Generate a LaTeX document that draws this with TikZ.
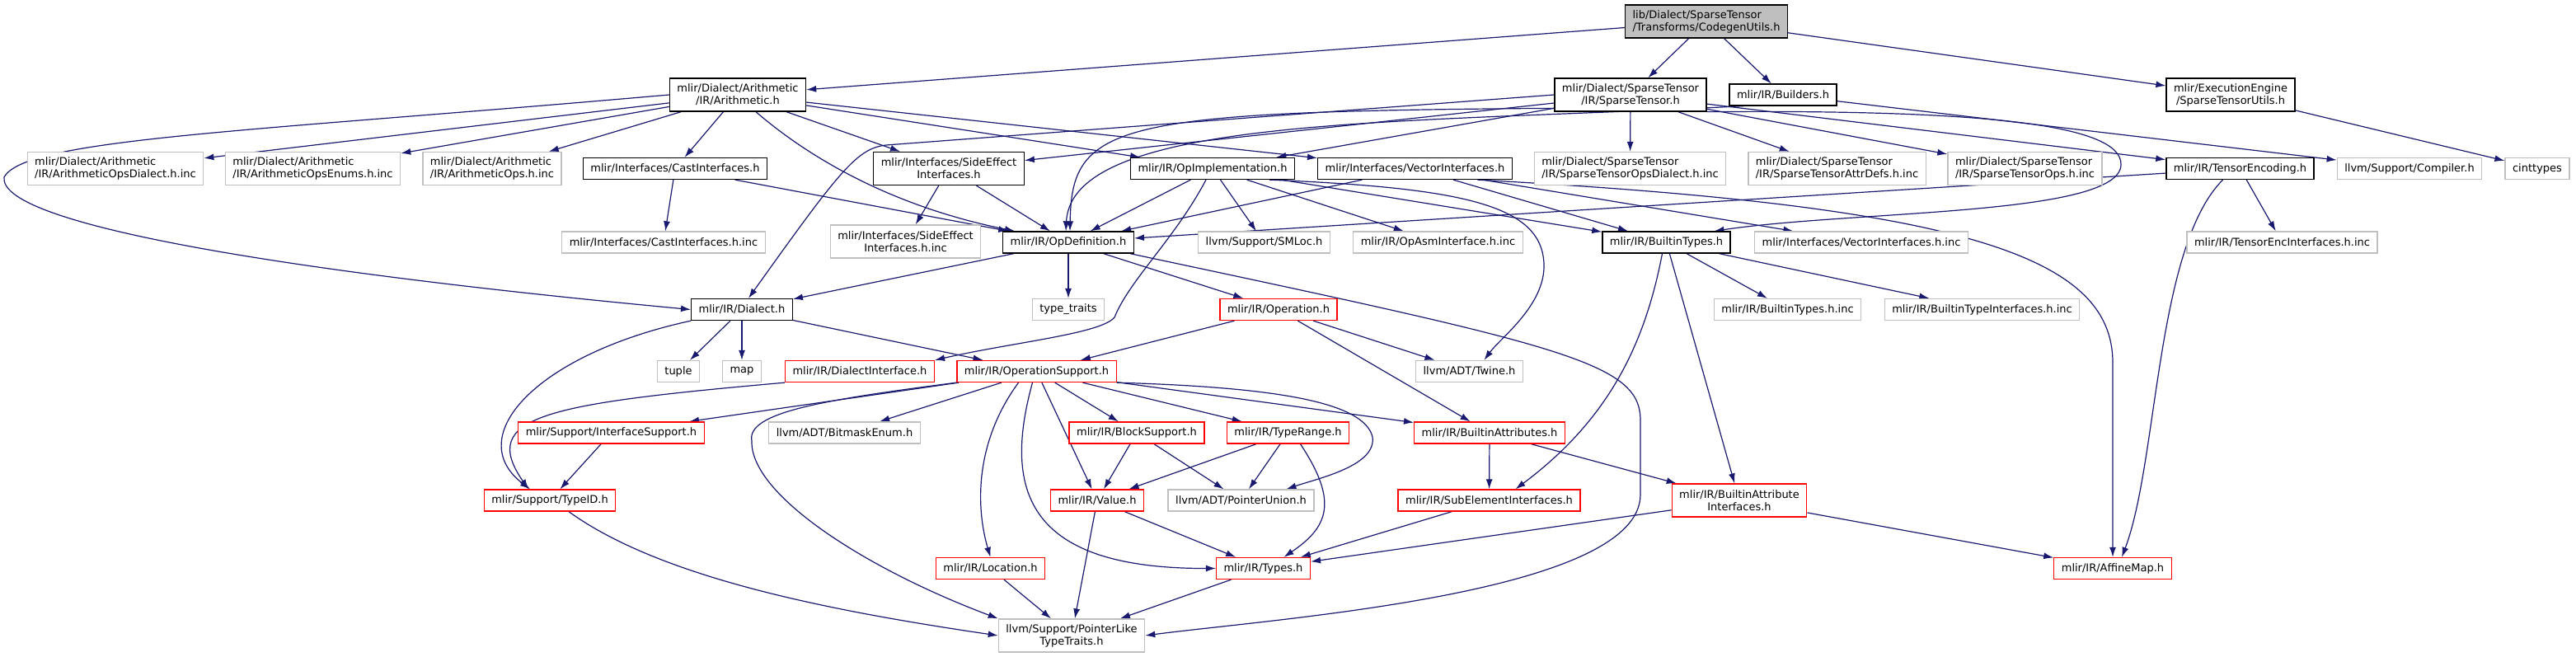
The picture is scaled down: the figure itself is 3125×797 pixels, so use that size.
\documentclass[tikz,border=0pt]{standalone}
\usepackage{fontspec}
\setmainfont{DejaVu Sans}
\usepackage{xcolor}
\usetikzlibrary{arrows.meta,backgrounds}

\definecolor{edgeblue}{RGB}{25,25,112}
\definecolor{boxgray}{RGB}{191,191,191}

\begin{document}
\begin{tikzpicture}[x=1pt, y=-1pt,
    every node/.style={font=\fontsize{13}{15}\selectfont, inner xsep=9pt, inner ysep=3pt, fill=white, line width=1.3pt, minimum height=26pt},
    file/.style={draw=black},
    sysfile/.style={draw=boxgray},
    cutfile/.style={draw=red},
    twoline/.style={minimum height=40pt},
    root/.style={file, twoline, fill=boxgray},
    dep/.style={-{Latex[length=12pt,width=8pt]}, draw=edgeblue, line width=1.2pt}]
  \useasboundingbox (0,0) rectangle (3125,797);

  % Source file
  \node[root, align=left] (codegen) at (2070,26) {lib/Dialect/SparseTensor\\/Transforms/CodegenUtils.h};

  % Direct includes
  \node[file, twoline, align=center] (arith) at (895,115) {mlir/Dialect/Arithmetic\\/IR/Arithmetic.h};
  \node[file, twoline, align=center] (sparse) at (1978,115) {mlir/Dialect/SparseTensor\\/IR/SparseTensor.h};
  \node[file] (builders) at (2163,115) {mlir/IR/Builders.h};
  \node[file, twoline, align=center] (execeng) at (2706,115) {mlir/ExecutionEngine\\/SparseTensorUtils.h};

  % Second row
  \node[sysfile, twoline, align=left] (opsdialect) at (140,204.5) {mlir/Dialect/Arithmetic\\/IR/ArithmeticOpsDialect.h.inc};
  \node[sysfile, twoline, align=left] (opsenums) at (379.5,204.5) {mlir/Dialect/Arithmetic\\/IR/ArithmeticOpsEnums.h.inc};
  \node[sysfile, twoline, align=left] (opsinc) at (597,204.5) {mlir/Dialect/Arithmetic\\/IR/ArithmeticOps.h.inc};
  \node[file] (castif) at (819,204.5) {mlir/Interfaces/CastInterfaces.h};
  \node[file, twoline, align=center] (sideeff) at (1151,204.5) {mlir/Interfaces/SideEffect\\Interfaces.h};
  \node[file] (opimpl) at (1471,204.5) {mlir/IR/OpImplementation.h};
  \node[file] (vecif) at (1716.5,204.5) {mlir/Interfaces/VectorInterfaces.h};
  \node[sysfile, twoline, align=left] (stdialect) at (1977.5,204.5) {mlir/Dialect/SparseTensor\\/IR/SparseTensorOpsDialect.h.inc};
  \node[sysfile, twoline, align=left] (stattr) at (2228.5,204.5) {mlir/Dialect/SparseTensor\\/IR/SparseTensorAttrDefs.h.inc};
  \node[sysfile, twoline, align=left] (stops) at (2456.5,204.5) {mlir/Dialect/SparseTensor\\/IR/SparseTensorOps.h.inc};
  \node[file] (tenc) at (2717.5,204.5) {mlir/IR/TensorEncoding.h};
  \node[sysfile] (compiler) at (2923,204.5) {llvm/Support/Compiler.h};
  \node[sysfile] (cinttypes) at (3078,204.5) {cinttypes};

  % Third row
  \node[sysfile] (castinc) at (805,294) {mlir/Interfaces/CastInterfaces.h.inc};
  \node[sysfile, twoline, align=center] (sideinc) at (1098.5,293) {mlir/Interfaces/SideEffect\\Interfaces.h.inc};
  \node[file] (opdef) at (1296,294) {mlir/IR/OpDefinition.h};
  \node[sysfile] (smloc) at (1533.5,294) {llvm/Support/SMLoc.h};
  \node[sysfile] (opasm) at (1744.5,294) {mlir/IR/OpAsmInterface.h.inc};
  \node[file] (btypes) at (2021.5,294) {mlir/IR/BuiltinTypes.h};
  \node[sysfile] (vecinc) at (2258,294) {mlir/Interfaces/VectorInterfaces.h.inc};
  \node[sysfile] (tencinc) at (2768.5,294) {mlir/IR/TensorEncInterfaces.h.inc};

  % Fourth row
  \node[file] (dialect) at (900,375.5) {mlir/IR/Dialect.h};
  \node[sysfile] (typetraits) at (1296,375.5) {type\_traits};
  \node[cutfile] (operation) at (1551,375.5) {mlir/IR/Operation.h};
  \node[sysfile] (btypesinc) at (2168.5,375.5) {mlir/IR/BuiltinTypes.h.inc};
  \node[sysfile] (btypeif) at (2404.5,375.5) {mlir/IR/BuiltinTypeInterfaces.h.inc};

  % Fifth row
  \node[sysfile] (tuple) at (823,450.5) {tuple};
  \node[sysfile] (map) at (900,450.5) {map};
  \node[cutfile] (dialif) at (1043,450.5) {mlir/IR/DialectInterface.h};
  \node[cutfile] (opsupport) at (1257.5,450.5) {mlir/IR/OperationSupport.h};
  \node[sysfile] (twine) at (1782.5,450.5) {llvm/ADT/Twine.h};

  % Sixth row
  \node[cutfile] (ifsupport) at (741.5,525) {mlir/Support/InterfaceSupport.h};
  \node[sysfile] (bitmask) at (1024.5,525) {llvm/ADT/BitmaskEnum.h};
  \node[cutfile] (blocksup) at (1379,525) {mlir/IR/BlockSupport.h};
  \node[cutfile] (typerange) at (1562.5,525) {mlir/IR/TypeRange.h};
  \node[cutfile] (battr) at (1807,525) {mlir/IR/BuiltinAttributes.h};

  % Seventh row
  \node[cutfile] (typeid) at (667,607) {mlir/Support/TypeID.h};
  \node[cutfile] (value) at (1331,607) {mlir/IR/Value.h};
  \node[sysfile] (ptrunion) at (1505.5,607) {llvm/ADT/PointerUnion.h};
  \node[cutfile] (subelem) at (1806.5,607) {mlir/IR/SubElementInterfaces.h};
  \node[cutfile, twoline, align=center] (battrif) at (2110,607) {mlir/IR/BuiltinAttribute\\Interfaces.h};

  % Bottom rows
  \node[cutfile] (location) at (1201.5,689.5) {mlir/IR/Location.h};
  \node[cutfile] (types) at (1532.5,689.5) {mlir/IR/Types.h};
  \node[cutfile] (affine) at (2563,689.5) {mlir/IR/AffineMap.h};
  \node[sysfile, twoline, align=center] (ptrlike) at (1300,771) {llvm/Support/PointerLike\\TypeTraits.h};

  \begin{scope}[on background layer]
    \fill[white] (0,0) rectangle (3125,797);

    % Straight includes
    \foreach \a/\b in {codegen/arith, codegen/sparse, codegen/builders, codegen/execeng,
        arith/opsdialect, arith/opsenums, arith/opsinc, arith/castif, arith/sideeff, arith/opimpl, arith/vecif,
        sparse/sideeff, sparse/opimpl, sparse/stdialect, sparse/stattr, sparse/stops, sparse/tenc,
        builders/compiler, execeng/cinttypes, castif/castinc, castif/opdef, sideeff/sideinc, sideeff/opdef,
        opimpl/opdef, opimpl/smloc, opimpl/opasm, opimpl/btypes, vecif/opdef, vecif/btypes, vecif/vecinc,
        tenc/opdef, tenc/tencinc, opdef/dialect, opdef/typetraits, opdef/operation,
        btypes/btypesinc, btypes/btypeif, btypes/battrif, dialect/tuple, dialect/map, dialect/opsupport,
        operation/opsupport, operation/twine, operation/battr, ifsupport/typeid,
        opsupport/ifsupport, opsupport/bitmask, opsupport/blocksup, opsupport/typerange, opsupport/battr, opsupport/value,
        blocksup/value, blocksup/ptrunion, typerange/value, typerange/ptrunion,
        battr/subelem, battr/battrif, value/types, value/ptrlike, subelem/types,
        battrif/types, battrif/affine, location/ptrlike, types/ptrlike}
      \draw[dep] (\a) -- (\b);

    % Curved includes
    \draw[dep] (arith.west) .. controls (300,160) and (30,168) .. (5,215)
      .. controls (-2,268) and (300,325) .. (dialect.west);
    \draw[dep] ([xshift=22pt]arith.south) .. controls (980,190) and (1080,250) .. ([xshift=-65pt]opdef.north);
    \draw[dep] (sparse.west) -- (1075,176) .. controls (1040,180) and (1020,205) .. ([xshift=8pt]dialect.north);
    \draw[dep] (sparse.190) .. controls (1350,135) and (1300,150) .. ([xshift=2pt]opdef.north);
    \draw[dep] ([xshift=-48pt]builders.south) .. controls (1700,150) and (1300,140) .. ([xshift=-3pt]opdef.north);
    \draw[dep] (sparse.south east) .. controls (2400,133) and (2575,150) .. (2573,200)
      .. controls (2571,262) and (2250,255) .. ([xshift=58pt]btypes.north);
    \draw[dep] ([xshift=69pt]opimpl.south) .. controls (1780,228) and (1870,250) .. (1873,320)
      .. controls (1875,370) and (1820,410) .. ([xshift=18pt]twine.north);
    \draw[dep] ([xshift=-8pt]opimpl.south) .. controls (1425,290) and (1370,340) .. (1352,385)
      .. controls (1335,405) and (1230,415) .. (dialif.north east);
    \draw[dep] ([xshift=76pt]vecif.south) .. controls (2380,250) and (2563,310) .. (2563,440) -- (affine.north);
    \draw[dep] ([xshift=-21pt]tenc.south) .. controls (2615,300) and (2618,560) .. ([xshift=11pt]affine.north);
    \draw[dep] ([xshift=75pt]opdef.south) .. controls (1900,420) and (1990,440) .. (1990,510) -- (1990,600)
      .. controls (1990,720) and (1550,750) .. (ptrlike.east);
    \draw[dep] ([xshift=-5pt]btypes.south) .. controls (1995,420) and (1950,510) .. ([xshift=32pt]subelem.north);
    \draw[dep] (dialect.south west) .. controls (650,430) and (560,530) .. ([xshift=-24pt]typeid.north);
    \draw[dep] (dialif.south west) .. controls (660,490) and (580,505) .. ([xshift=-26pt]typeid.north);
    \draw[dep] ([xshift=23pt]typeid.south) .. controls (800,700) and (1000,740) .. (ptrlike.west);
    \draw[dep] (opsupport.south west) .. controls (1000,485) and (905,500) .. (912,535)
      .. controls (910,600) and (1050,690) .. (ptrlike.north west);
    \draw[dep] ([xshift=-22pt]opsupport.south) .. controls (1180,540) and (1185,620) .. (location.north);
    \draw[dep] ([xshift=-5pt]opsupport.south) .. controls (1215,600) and (1250,690) .. (types.west);
    \draw[dep] (opsupport.south east) .. controls (1560,470) and (1655,490) .. (1665,530)
      .. controls (1670,565) and (1600,580) .. ([xshift=55pt]ptrunion.north);
    \draw[dep] ([xshift=15pt]typerange.south) .. controls (1625,610) and (1610,640) .. ([xshift=25pt]types.north);
  \end{scope}
\end{tikzpicture}
\end{document}
